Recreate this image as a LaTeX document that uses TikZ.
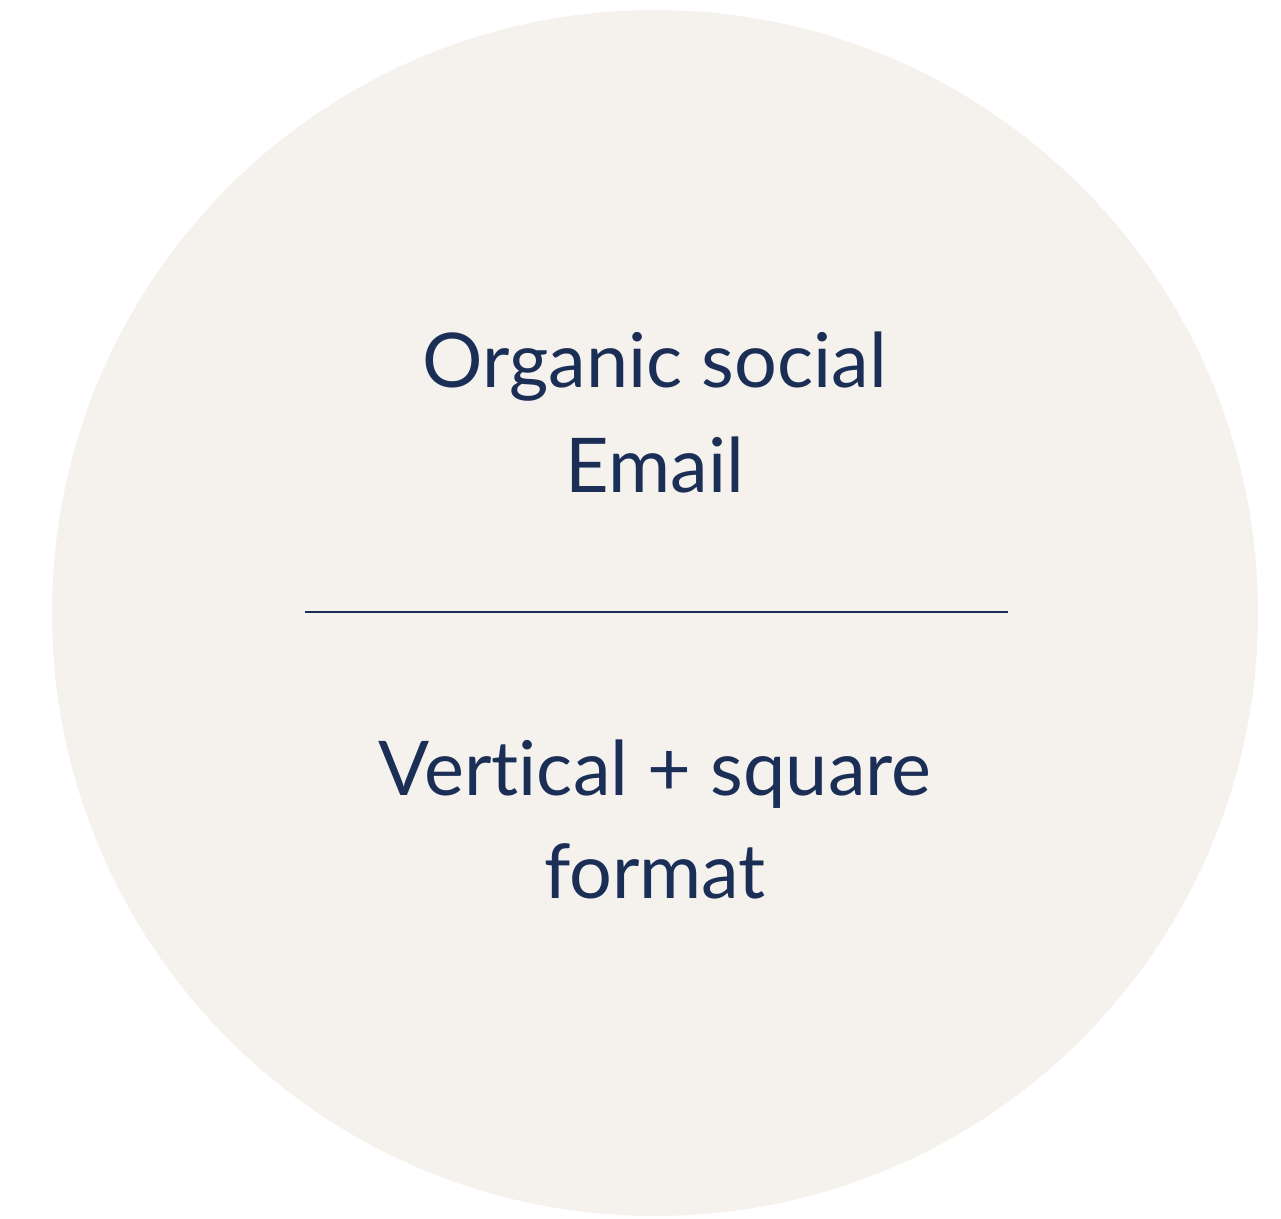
\documentclass[tikz,border=0pt]{standalone}
\usepackage{fontspec}
\setmainfont[Ligatures=NoCommon]{Lato}
\usetikzlibrary{positioning}

\begin{document}
\begin{tikzpicture}[x=0.02cm, y=-0.02cm]
  % Define colors
  \definecolor{discfill}{RGB}{245,242,238}   % Warm off-white
  \definecolor{navytext}{RGB}{26,46,86}      % Dark navy

  \useasboundingbox (0,0) rectangle (1281,1218);

  % Background disc
  \fill[discfill] (655,613) circle[radius=603];

  % Labels
  \node[anchor=base, text=navytext, font=\fontsize{43}{51}\selectfont, inner sep=0pt] (organic) at (655,387) {Organic social};
  \node[anchor=base, text=navytext, font=\fontsize{43}{51}\selectfont, inner sep=0pt] (email) at (655,492) {Email};
  \node[anchor=base, text=navytext, font=\fontsize{43}{51}\selectfont, inner sep=0pt] (vertical) at (655,795) {Vertical + square};
  \node[anchor=base, text=navytext, font=\fontsize{43}{51}\selectfont, inner sep=0pt] (format) at (655,898) {format};

  % Divider
  \coordinate (divleft) at (305,612);
  \coordinate (divright) at (1008,612);
  \draw[navytext, line width=1.1pt] (divleft) -- (divright);
\end{tikzpicture}
\end{document}
